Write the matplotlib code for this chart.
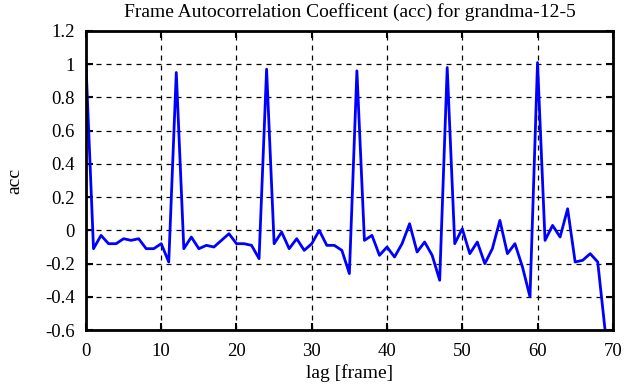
import numpy as np
import matplotlib
matplotlib.use("Agg")
import matplotlib.pyplot as plt

# ---- data (lag in frames, autocorrelation coefficient) ----
lag = np.arange(0, 70)
acc = [1.00, -0.11, -0.03, -0.08, -0.08, -0.05, -0.06, -0.05, -0.11, -0.11,
       -0.08, -0.19, 0.95, -0.11, -0.04, -0.11, -0.09, -0.10, -0.06, -0.02,
       -0.08, -0.08, -0.09, -0.17, 0.97, -0.08, -0.01, -0.11, -0.05, -0.12,
       -0.08, 0.00, -0.09, -0.09, -0.12, -0.26, 0.96, -0.06, -0.03, -0.15,
       -0.10, -0.16, -0.08, 0.04, -0.13, -0.07, -0.15, -0.30, 0.98, -0.08,
       0.01, -0.14, -0.07, -0.20, -0.11, 0.06, -0.14, -0.08, -0.22, -0.40,
       1.01, -0.06, 0.03, -0.04, 0.13, -0.19, -0.18, -0.14, -0.19, -0.61]

xticks = [0, 10, 20, 30, 40, 50, 60, 70]
yticks = [-0.6, -0.4, -0.2, 0, 0.2, 0.4, 0.6, 0.8, 1, 1.2]
ylabels = ["-0.6", "-0.4", "-0.2", "0", "0.2", "0.4", "0.6", "0.8", "1", "1.2"]

plt.rcParams["font.family"] = ["Liberation Serif", "DejaVu Serif"]
plt.rcParams["font.size"] = 13.5

fig = plt.figure(figsize=(6.35, 3.87), dpi=100)
ax = fig.add_axes([0.1354, 0.147, 0.8296, 0.773])

ax.plot(lag, acc, "-", color="#0000ff", lw=2)

ax.set_xlim(0, 70); ax.set_ylim(-0.6, 1.2)
ax.set_xticks(xticks)
ax.set_yticks(yticks); ax.set_yticklabels(ylabels)
ax.grid(True, color="black", ls=(0, (4, 4)), lw=0.9)
ax.tick_params(direction="in", length=5, width=1.5, top=True, right=True)
ax.tick_params(axis="x", pad=9)
ax.tick_params(axis="y", pad=8)
for s in ax.spines.values():
    s.set_linewidth(2)

ax.set_xlabel("lag [frame]", fontsize=14, labelpad=3)
ax.set_ylabel("acc", fontsize=14, labelpad=16)
ax.set_title("Frame Autocorrelation Coefficent (acc) for grandma-12-5", fontsize=14, pad=10)

fig.savefig("out.png", dpi=100)
